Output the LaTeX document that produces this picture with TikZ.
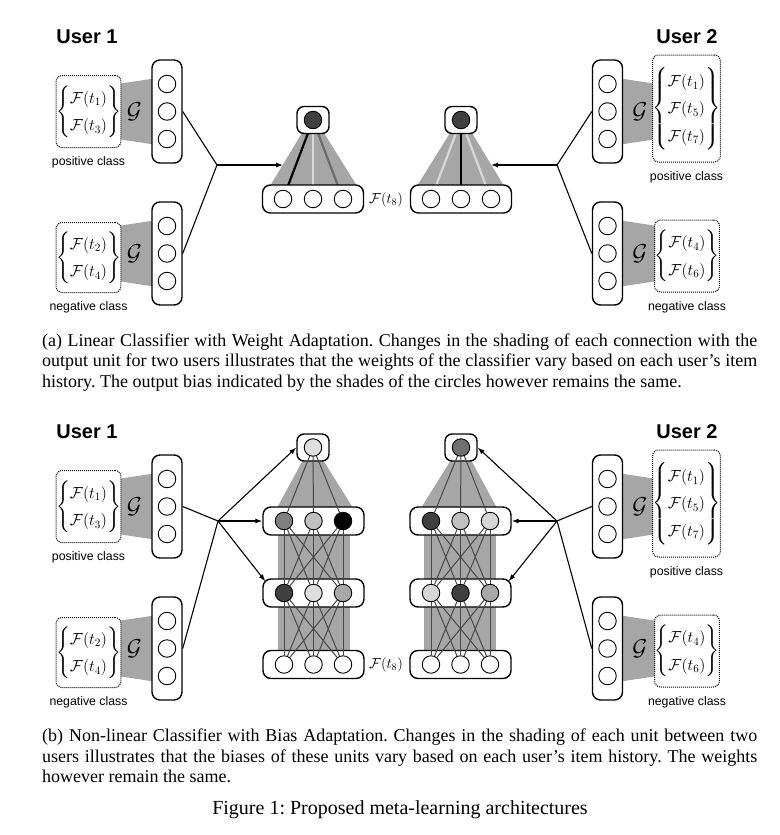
\RequirePackage{fix-cm}
\documentclass[tikz,border=0pt]{standalone}
\usepackage{amsmath}
\usepackage{fontspec}
\setmainfont{Liberation Serif}
\setsansfont{Liberation Sans}
\usetikzlibrary{arrows.meta,calc}
\pgfdeclarelayer{background}
\pgfdeclarelayer{boxes}
\pgfdeclarelayer{edges}
\pgfsetlayers{background,boxes,edges,main}
\definecolor{graybg}{RGB}{166,166,166}
\definecolor{edgec}{RGB}{72,72,72}
\definecolor{udark}{RGB}{64,64,64}
\definecolor{umid}{RGB}{128,128,128}
\definecolor{ulight}{RGB}{192,192,192}
\definecolor{uvlight}{RGB}{222,222,222}
\definecolor{ugray}{RGB}{168,168,168}
\definecolor{uotwo}{RGB}{112,112,112}
\definecolor{upale}{RGB}{214,214,214}
\definecolor{wlight}{RGB}{216,216,216}
\definecolor{wdark}{RGB}{108,108,108}
\frenchspacing
\newcommand\setfnt{\fontsize{16}{19.5}\selectfont\renewcommand{\arraystretch}{1.4}}
\newcommand\fset[1]{{\setfnt$\left\{\begin{matrix}#1\end{matrix}\right\}$}}
% #1 name, #2 layer x, #3 layer y, #4 set x, #5 set height, #6 content, #7 label, #8 G x, #9 set y
\newcommand\umodule[9]{%
  \node[layer] (#1) at (#2,#3) {};
  \foreach \k/\dy in {1/-27.5,2/0,3/27.5}{\node[unit] (#1\k) at ({#2},{#3+(\dy)}) {};}
  \node[setbox, minimum height=#5] (#1s) at (#4,#9) {\fset{#6}};
  \node[gl] (#1g) at (#8,#3) {$\mathcal{G}$};
  \node[cls] (#1l) at ($(#1s.south)+(0,14.5)$) {#7};
  \begin{pgfonlayer}{background}
    \fill[graybg] (#4,{#3-23}) -- (#2,{#3-35}) -- (#2,{#3+35}) -- (#4,{#3+23}) -- cycle;
  \end{pgfonlayer}
}
\begin{document}
\begin{tikzpicture}[x=1pt,y=-1pt,
  layer/.style={draw, line width=1.4pt, rounded corners=8pt, fill=white, minimum width=30pt, minimum height=103pt, inner sep=0pt},
  hlayer/.style={draw, line width=1.4pt, rounded corners=8pt, fill=white, minimum width=101pt, minimum height=28pt, inner sep=0pt},
  obox/.style={draw, line width=1.4pt, rounded corners=7pt, fill=white, minimum width=32pt, minimum height=27pt, inner sep=0pt},
  unit/.style={circle, draw, line width=0.9pt, minimum size=17.5pt, inner sep=0pt, fill=white},
  setbox/.style={draw, densely dotted, line width=1pt, rounded corners=6pt, minimum width=57pt, inner sep=0pt, fill=white},
  cls/.style={font=\sffamily\fontsize{12.3}{14}\selectfont, inner sep=0pt},
  gl/.style={font=\fontsize{23}{27}\selectfont, inner sep=0pt},
  ttl/.style={font=\sffamily\bfseries\fontsize{20}{24}\selectfont, inner sep=0pt},
  ft/.style={font=\fontsize{14.5}{17}\selectfont, inner sep=0pt},
  captxt/.style={font=\fontsize{18}{21}\selectfont, inner sep=0pt, anchor=base west},
  conn/.style={line width=1.1pt},
  arr/.style={conn, -{Latex[length=7pt,width=5pt]}},
  wedge/.style={line width=1pt, draw=edgec}]
\useasboundingbox (0,0) rectangle (779,835);
\begin{pgfonlayer}{background}
  \fill[white] (0,0) rectangle (779,835);
\end{pgfonlayer}

% ================= Panel (a) =================
\node[ttl] (ua1) at (87,37) {User 1};
\node[ttl] (ua2) at (687,37) {User 2};
\umodule{ap}{167}{111.5}{88.5}{72pt}{\mathcal{F}(t_1)\\\mathcal{F}(t_3)}{positive class}{134.5}{111.5}
\umodule{an}{167}{253.5}{88.5}{70pt}{\mathcal{F}(t_2)\\\mathcal{F}(t_4)}{negative class}{134.5}{257.5}
\umodule{bp}{607.5}{111.5}{686.5}{107pt}{\mathcal{F}(t_1)\\\mathcal{F}(t_5)\\\mathcal{F}(t_7)}{positive class}{640}{108.5}
\umodule{bn}{607.5}{253.5}{687}{72pt}{\mathcal{F}(t_4)\\\mathcal{F}(t_6)}{negative class}{640}{256}

% central linear classifiers
\node[obox] (ao1) at (313,120) {};
\node[unit, fill=udark] (ao1c) at (313,120) {};
\node[hlayer] (ai1) at (313,199) {};
\foreach \k/\x in {1/283,2/313,3/343}{\node[unit] (ai1\k) at (\x,199) {};}
\node[obox] (ao2) at (461,120) {};
\node[unit, fill=udark] (ao2c) at (461,120) {};
\node[hlayer] (ai2) at (461,199) {};
\foreach \k/\x in {1/431,2/461,3/491}{\node[unit] (ai2\k) at (\x,199) {};}
\node[ft] (fta) at (386,200) {$\mathcal{F}(t_8)$};
\begin{pgfonlayer}{background}
  \fill[graybg] (302,133) -- (324,133) -- (357,186) -- (270,186) -- cycle;
  \fill[graybg] (450,133) -- (472,133) -- (504,186) -- (417,186) -- cycle;
  \draw[line width=2.2pt, black] (ao1c) -- (ai11);
  \draw[line width=2.2pt, wlight] (ao1c) -- (ai12);
  \draw[line width=2.2pt, wdark] (ao1c) -- (ai13);
  \draw[line width=2.2pt, wlight] (ao2c) -- (ai21);
  \draw[line width=2.2pt, black] (ao2c) -- (ai22);
  \draw[line width=2.2pt, wlight] (ao2c) -- (ai23);
\end{pgfonlayer}
\coordinate (ja1) at (217,165);
\coordinate (ta1) at (283,165);
\coordinate (ja2) at (557,165);
\coordinate (ta2) at (491,165);
\draw[conn] (ap.east) -- (ja1);
\draw[conn] (an.east) -- (ja1);
\draw[arr] (ja1) -- (ta1);
\draw[conn] (bp.west) -- (ja2);
\draw[conn] (bn.west) -- (ja2);
\draw[arr] (ja2) -- (ta2);

\node[captxt] (capa1) at (42,346) {\makebox[715pt][s]{(a) Linear Classifier with Weight Adaptation. Changes in the shading of each connection with the}};
\node[captxt] (capa2) at (42,366.5) {\makebox[715pt][s]{output unit for two users illustrates that the weights of the classifier vary based on each user’s item}};
\node[captxt] (capa3) at (42,387) {history. The output bias indicated by the shades of the circles however remains the same.};

% ================= Panel (b) =================
\node[ttl] (ub1) at (87,432) {User 1};
\node[ttl] (ub2) at (687,432) {User 2};
\umodule{cp}{167}{506.5}{88.5}{72pt}{\mathcal{F}(t_1)\\\mathcal{F}(t_3)}{positive class}{134.5}{506.5}
\umodule{cn}{167}{648.5}{88.5}{70pt}{\mathcal{F}(t_2)\\\mathcal{F}(t_4)}{negative class}{134.5}{652.5}
\umodule{dp}{607.5}{506.5}{686.5}{107pt}{\mathcal{F}(t_1)\\\mathcal{F}(t_5)\\\mathcal{F}(t_7)}{positive class}{640}{503.5}
\umodule{dn}{607.5}{648.5}{687}{72pt}{\mathcal{F}(t_4)\\\mathcal{F}(t_6)}{negative class}{640}{651}

\begin{pgfonlayer}{boxes}
  \node[obox] (po) at (313,447.5) {};
  \node[hlayer] (pa) at (313.5,521) {};
  \node[hlayer] (pb) at (313.5,593) {};
  \node[hlayer] (pc) at (313.5,664.5) {};
  \node[obox] (qo) at (461,447.5) {};
  \node[hlayer] (qa) at (460.5,521) {};
  \node[hlayer] (qb) at (460.5,593) {};
  \node[hlayer] (qc) at (460.5,664.5) {};
\end{pgfonlayer}
\node[unit, fill=uvlight] (poc) at (313,447.5) {};
\node[unit, fill=umid] (pa1) at (284,521) {};
\node[unit, fill=ulight] (pa2) at (313.5,521) {};
\node[unit, fill=black] (pa3) at (343,521) {};
\node[unit, fill=udark] (pb1) at (284,593) {};
\node[unit, fill=uvlight] (pb2) at (313.5,593) {};
\node[unit, fill=ugray] (pb3) at (343,593) {};
\foreach \k/\x in {1/284,2/313.5,3/343}{\node[unit] (pc\k) at (\x,664.5) {};}
\node[unit, fill=uotwo] (qoc) at (461,447.5) {};
\node[unit, fill=udark] (qa1) at (431,521) {};
\node[unit, fill=ulight] (qa2) at (460.5,521) {};
\node[unit, fill=upale] (qa3) at (490,521) {};
\node[unit, fill=upale] (qb1) at (431,593) {};
\node[unit, fill=udark] (qb2) at (460.5,593) {};
\node[unit, fill=ugray] (qb3) at (490,593) {};
\foreach \k/\x in {1/431,2/460.5,3/490}{\node[unit] (qc\k) at (\x,664.5) {};}
\node[ft] (ftb) at (386,665) {$\mathcal{F}(t_8)$};

\begin{pgfonlayer}{background}
  \fill[graybg] (303,460) -- (323,460) -- (353,508) -- (277,508) -- cycle;
  \fill[graybg] (278,507) rectangle (350,651);
  \fill[graybg] (451,460) -- (471,460) -- (497,508) -- (421,508) -- cycle;
  \fill[graybg] (424,507) rectangle (496,651);
\end{pgfonlayer}
\begin{pgfonlayer}{edges}
  \foreach \i in {1,2,3}{
    \draw[wedge] (poc) -- (pa\i);
    \draw[wedge] (qoc) -- (qa\i);
    \foreach \j in {1,2,3}{
      \draw[wedge] (pa\i) -- (pb\j);
      \draw[wedge] (pb\i) -- (pc\j);
      \draw[wedge] (qa\i) -- (qb\j);
      \draw[wedge] (qb\i) -- (qc\j);
    }
  }
\end{pgfonlayer}

\coordinate (jb1) at (218,521);
\coordinate (jb2) at (557,521);
\draw[conn] (cp.east) -- (jb1);
\draw[conn] (cn.east) -- (jb1);
\draw[arr] (jb1) -- (po.west);
\draw[arr] (jb1) -- (pa.west);
\draw[arr] (jb1) -- ($(pb.north west)+(3,3)$);
\draw[conn] (dp.west) -- (jb2);
\draw[conn] (dn.west) -- (jb2);
\draw[arr] (jb2) -- (qo.east);
\draw[arr] (jb2) -- (qa.east);
\draw[arr] (jb2) -- ($(qb.north east)+(-3,3)$);

\node[captxt] (capb1) at (42,741.5) {\makebox[715pt][s]{(b) Non-linear Classifier with Bias Adaptation. Changes in the shading of each unit between two}};
\node[captxt] (capb2) at (42,762) {\makebox[715pt][s]{users illustrates that the biases of these units vary based on each user’s item history. The weights}};
\node[captxt] (capb3) at (42,782.5) {however remain the same.};
\node[inner sep=0pt, anchor=base, font=\fontsize{20}{24}\selectfont] (figcap) at (400,814) {Figure 1: Proposed meta-learning architectures};
\end{tikzpicture}
\end{document}
